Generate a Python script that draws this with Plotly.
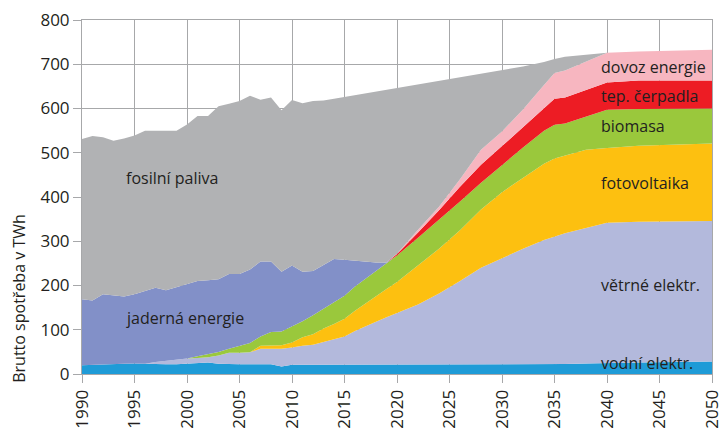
import plotly.graph_objects as go

years = list(range(1990, 2021)) + [2022, 2024, 2026, 2028, 2030, 2032, 2034, 2035, 2036, 2038, 2040, 2043, 2050]

vodni = [19.5, 20, 21, 22, 23, 24, 23, 22, 22, 22, 23, 24.5, 26, 23, 22, 22, 22, 22, 22, 17, 21,
         21, 21, 21, 21, 21, 21, 21, 21, 21, 21,
         22, 22, 22, 22, 22, 22, 22, 22, 22.5, 23.5, 25, 26, 28]
vetrne = [0, 0, 0, 0, 0, 0, 0, 5, 8, 11, 12, 11.5, 12, 19, 26, 26, 27, 35, 35, 40, 39,
          43, 45, 51, 57, 64, 76, 87, 97, 107, 117,
          135, 160, 188, 218, 240, 261, 281, 289, 295.5, 306.5, 317, 318, 318]
fotovoltaika = [0, 0, 0, 0, 0, 0, 0, 0, 0, 0, 0, 0, 0, 0, 0, 0, 0, 7, 8, 8, 11,
                19, 24, 31, 35, 40, 46, 52, 58, 64, 70,
                88, 101, 115, 132, 149, 160, 172, 176, 176, 177, 169, 172, 175]
biomasa = [0, 0, 0, 0, 0, 0, 0, 0, 0, 0, 0, 4, 7, 8, 9, 15, 21, 21, 30, 31, 36,
           36, 43, 45, 49, 52, 55, 55, 57, 58, 60,
           63, 65, 65, 60, 62, 69, 75, 76, 72, 75, 86, 83, 79]
jaderna = [149.5, 146, 159, 155, 152, 156, 165, 168, 159, 163, 169, 170, 167, 164, 169, 163, 166, 169, 159, 135, 138,
           112, 100, 98, 98, 81, 58, 39, 19, 2, 0,
           0, 0, 0, 0, 0, 0, 0, 0, 0, 0, 0, 0, 0]
cerpadla = [0] * 30 + [3,
            12, 22, 33, 41, 42, 46, 50, 59, 59, 60, 62, 64, 63]
dovoz = [0] * 30 + [1,
         6, 8, 17, 34, 33, 40, 53, 58, 61, 64, 67, 66, 70]
fosilni = [362, 372, 355, 350, 357, 359, 362, 355, 361, 354, 360, 373, 371, 391, 385, 391, 393, 366, 371, 365, 374,
           381, 384, 372, 362, 368, 374, 380, 386, 390, 374,
           328, 284, 230, 171, 138, 97, 52, 32, 31, 16, 0, 0, 0]

series = [
    ("vodní elektr.", vodni, "#1f9bd7"),
    ("větrné elektr.", vetrne, "#b3b9dc"),
    ("fotovoltaika", fotovoltaika, "#fdc010"),
    ("biomasa", biomasa, "#9ac83c"),
    ("jaderná energie", jaderna, "#8290c8"),
    ("tep. čerpadla", cerpadla, "#ed1c24"),
    ("dovoz energie", dovoz, "#f7b6c0"),
    ("fosilní paliva", fosilni, "#b1b2b4"),
]

fig = go.Figure()
for name, vals, col in series:
    fig.add_trace(go.Scatter(
        x=years, y=vals, name=name, mode="lines", stackgroup="one",
        line=dict(width=0, color=col), fillcolor=col, hoverinfo="skip"))

font_family = "Open Sans"
txt_col = "#231f20"
grid_col = "#a7a8aa"

labels = [
    ("fosilní paliva", 1998.6, 443, "center"),
    ("jaderná energie", 1999.8, 127, "center"),
    ("dovoz energie", 2039.2, 693, "left"),
    ("tep. čerpadla", 2039.2, 628, "left"),
    ("biomasa", 2039.2, 560, "left"),
    ("fotovoltaika", 2039.2, 432, "left"),
    ("větrné elektr.", 2039.2, 202, "left"),
    ("vodní elektr.", 2039.2, 24, "left"),
]
annotations = []
for t, x, y, anc in labels:
    annotations.append(dict(text=t, x=x, y=y, xref="x", yref="y", xanchor=anc, yanchor="middle",
                            showarrow=False, font=dict(family=font_family, size=16, color=txt_col)))
annotations.append(dict(text="Brutto spotřeba v TWh", x=-0.1, y=170, xref="paper", yref="y",
                        textangle=-90, showarrow=False, xanchor="center", yanchor="middle",
                        font=dict(family=font_family, size=16, color=txt_col)))

fig.update_layout(
    width=719, height=432,
    margin=dict(l=82, r=7, t=19.5, b=57.5),
    paper_bgcolor="white", plot_bgcolor="white",
    showlegend=False,
    annotations=annotations,
    font=dict(family=font_family, color=txt_col),
)
fig.update_xaxes(
    range=[1990, 2050], tickmode="linear", tick0=1990, dtick=5, tickangle=-90,
    showgrid=True, gridcolor=grid_col, gridwidth=1,
    ticks="outside", ticklen=8, tickcolor=grid_col,
    tickfont=dict(family=font_family, size=17, color=txt_col),
    ticklabeloverflow="allow",
    zeroline=False, showline=True, mirror=True, linecolor=grid_col, linewidth=1,
    layer="below traces", automargin=False,
)
fig.update_yaxes(
    range=[0, 800], tickmode="linear", tick0=0, dtick=100,
    showgrid=True, gridcolor=grid_col, gridwidth=1,
    ticks="outside", ticklen=8, tickcolor=grid_col,
    tickfont=dict(family=font_family, size=17, color=txt_col),
    zeroline=False, showline=True, mirror=True, linecolor=grid_col, linewidth=1,
    layer="below traces", automargin=False,
)

fig.write_html("out.html", config={"displayModeBar": False},
               post_script="document.body.style.margin='0';document.body.style.overflow='hidden';")
